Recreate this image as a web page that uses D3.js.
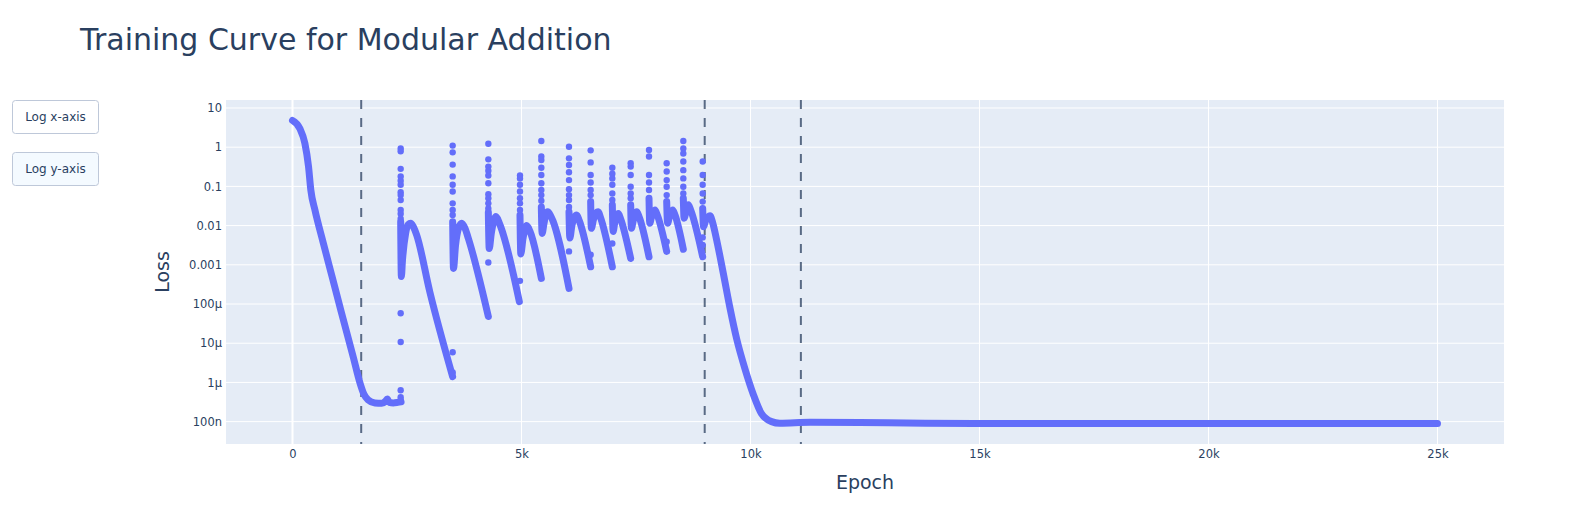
<!DOCTYPE html>
<html>
<head>
	<title>Training Curve for Modular Addition</title>
	<script src="https://d3js.org/d3.v7.min.js" charset="utf-8"></script>
	<style>
		body { margin: 0; background: #fff; }
		text { font-family: "DejaVu Sans", Verdana, sans-serif; fill: #2a3f5f; }
	</style>
</head>
<body>
	<svg width="1584" height="525"></svg>
	<script>
		// main loss trace, null = break between the spike cycles
		const lossEpoch = [
			0, 160, 270, 350, 400, 490, 670, 860, 1060, 1330, 1470, 1560, 1650, 1800, 1950, 2030, 2070, 2110, 2200, 2300, 2370, null,
			2362, 2377, 2400, 2470, 2530, 2580, 2640, 2710, 3000, 3497, null,
			3497, 3515, 3560, 3630, 3694, 3767, 3840, 4276, null,
			4276, 4295, 4340, 4400, 4443, 4516, 4953, null,
			4967, 4985, 5030, 5080, 5113, 5186, 5433, null,
			5433, 5450, 5490, 5530, 5572, 5645, 6037, null,
			6037, 6055, 6100, 6150, 6205, 6263, 6510, null,
			6510, 6525, 6570, 6620, 6677, 6728, 6983, null,
			6983, 7000, 7040, 7080, 7114, 7165, 7384, null,
			7384, 7400, 7440, 7480, 7515, 7566, 7784, null,
			7784, 7800, 7840, 7880, 7915, 7965, 8170, null,
			8170, 8190, 8230, 8270, 8301, 8352, 8533, null,
			8533, 8550, 8590, 8620, 8643, 8694, 8956, null,
			8956, 8975, 9020, 9070, 9116, 9180, 9261, 9407, 9552, 9700, 9880, 10060, 10240, 10460, 10640, 11300, 13000, 15000, 20000, 25000
		];
		const lossValue = [
			4.8, 3.0, 1.26, 0.32, 0.081, 0.025, 0.0037, 5.2e-4, 6.6e-5, 4.3e-6, 1.0e-6, 5.0e-7, 3.6e-7, 3.0e-7, 2.95e-7, 3.3e-7, 3.8e-7, 3.1e-7, 3.0e-7, 3.1e-7, 3.2e-7, null,
			0.0126, 5.0e-4, 1.26e-3, 6.3e-3, 0.0107, 0.0115, 0.0093, 0.0058, 2.0e-4, 1.4e-6, null,
			0.0126, 8.1e-4, 0.0032, 0.0089, 0.0115, 0.0085, 0.0047, 4.8e-5, null,
			0.022, 0.0026, 0.0063, 0.014, 0.017, 0.0115, 1.15e-4, null,
			0.0186, 0.0019, 0.0045, 0.0083, 0.010, 0.0071, 4.5e-4, null,
			0.030, 0.0063, 0.0112, 0.019, 0.0224, 0.017, 2.5e-4, null,
			0.0224, 0.0048, 0.010, 0.0158, 0.0186, 0.0132, 8.9e-4, null,
			0.041, 0.0085, 0.014, 0.020, 0.0224, 0.0158, 8.9e-4, null,
			0.034, 0.0071, 0.0126, 0.0178, 0.0204, 0.0148, 0.00145, null,
			0.034, 0.0085, 0.0135, 0.019, 0.0224, 0.017, 0.0016, null,
			0.050, 0.0115, 0.017, 0.022, 0.025, 0.0186, 0.0022, null,
			0.041, 0.0115, 0.017, 0.022, 0.025, 0.0186, 0.0025, null,
			0.050, 0.0155, 0.022, 0.029, 0.034, 0.025, 0.0016, null,
			0.0275, 0.0093, 0.0135, 0.0165, 0.0178, 0.0112, 0.0043, 6.0e-4, 7.9e-5, 1.26e-5, 2.2e-6, 5.0e-7, 1.6e-7, 1.0e-7, 9.1e-8, 9.6e-8, 9.3e-8, 8.9e-8, 8.9e-8, 8.9e-8
		];

		// loose points at each loss spike
		const spikeEpochs = [2362, 3497, 4276, 4967, 5433, 6037, 6510, 6983, 7384, 7784, 8170, 8533, 8956];
		const spikeLosses = [
			[0.93, 0.79, 0.28, 0.18, 0.14, 0.11, 0.071, 0.06, 0.045, 0.025, 0.02, 0.015, 5.8e-5, 1.07e-5, 6.3e-7, 4.2e-7, 3.5e-7],
			[1.1, 0.74, 0.36, 0.18, 0.11, 0.074, 0.037, 0.025, 0.0186, 5.9e-6, 1.8e-6],
			[1.23, 0.49, 0.32, 0.25, 0.19, 0.12, 0.063, 0.05, 0.037, 0.0275, 0.00115],
			[0.19, 0.16, 0.11, 0.074, 0.05, 0.037, 0.025, 3.9e-4],
			[1.44, 0.58, 0.47, 0.30, 0.195, 0.12, 0.081, 0.06, 0.043],
			[1.03, 0.52, 0.35, 0.23, 0.145, 0.085, 0.06, 0.045, 0.03, 0.0022],
			[0.83, 0.41, 0.195, 0.126, 0.081, 0.06, 0.0018],
			[0.30, 0.21, 0.16, 0.11, 0.066, 0.045, 0.0035],
			[0.39, 0.32, 0.195, 0.098, 0.066, 0.05],
			[0.85, 0.58, 0.195, 0.126, 0.081],
			[0.39, 0.24, 0.145, 0.098, 0.06, 0.0039],
			[1.44, 0.93, 0.69, 0.43, 0.26, 0.16, 0.098, 0.066],
			[0.43, 0.195, 0.11, 0.066, 0.041, 0.005, 0.0032]
		];

		const phaseLines = [1500, 9000, 11100];

		const xTicks = [0, 5000, 10000, 15000, 20000, 25000];
		const xTickLabels = ['0', '5k', '10k', '15k', '20k', '25k'];
		const yTicks = [1e-7, 1e-6, 1e-5, 1e-4, 1e-3, 0.01, 0.1, 1, 10];
		const yTickLabels = ['100n', '1µ', '10µ', '100µ', '0.001', '0.01', '0.1', '1', '10'];

		const buttonLabels = ['Log x-axis', 'Log y-axis'];

		const margin = {top: 100, right: 80, bottom: 81, left: 226};
		const width = 1584 - margin.left - margin.right;
		const height = 525 - margin.top - margin.bottom;
		const color = '#636efa';

		var svg = d3.select('svg');

		svg.append('text')
			.attr('x', 80)
			.attr('y', 50)
			.style('font-size', '30px')
			.text('Training Curve for Modular Addition');

		// update-menu style buttons
		const btn = svg.selectAll('g.btn')
			.data(buttonLabels)
			.enter()
			.append('g')
			.attr('transform', (d, i) => `translate(12.5, ${100.5 + i * 52})`);
		btn.append('rect')
			.attr('width', 86)
			.attr('height', 33)
			.attr('rx', 3)
			.style('fill', (d, i) => i == 1 ? '#f4faff' : '#ffffff')
			.style('stroke', '#bec8d9')
			.style('stroke-width', 1);
		btn.append('text')
			.attr('x', 43)
			.attr('y', 16.5)
			.attr('dy', '0.35em')
			.attr('text-anchor', 'middle')
			.style('font-size', '12px')
			.text(d => d);

		const chart = svg.append('g')
			.attr('transform', `translate(${margin.left}, ${margin.top})`);

		const xScale = d3.scaleLinear()
			.domain([-1452, 26452])
			.range([0, width]);

		const yScale = d3.scaleLog()
			.domain([Math.pow(10, -7.571), Math.pow(10, 1.204)])
			.range([height, 0]);

		chart.append('rect')
			.attr('width', width)
			.attr('height', height)
			.style('fill', '#e5ecf6');

		// grid
		chart.append('g')
			.selectAll('line')
			.data(xTicks)
			.enter()
			.append('line')
			.attr('x1', d => xScale(d))
			.attr('x2', d => xScale(d))
			.attr('y1', 0)
			.attr('y2', height)
			.style('stroke', '#ffffff')
			.style('stroke-width', d => d == 0 ? 2 : 1);

		chart.append('g')
			.selectAll('line')
			.data(yTicks)
			.enter()
			.append('line')
			.attr('x1', 0)
			.attr('x2', width)
			.attr('y1', d => yScale(d))
			.attr('y2', d => yScale(d))
			.style('stroke', '#ffffff')
			.style('stroke-width', 1);

		// axes
		const xAxis = chart.append('g')
			.attr('transform', `translate(0, ${height})`)
			.call(d3.axisBottom(xScale).tickValues(xTicks).tickFormat((d, i) => xTickLabels[i]).tickSize(0).tickPadding(6));
		const yAxis = chart.append('g')
			.call(d3.axisLeft(yScale).tickValues(yTicks).tickFormat((d, i) => yTickLabels[i]).tickSize(0).tickPadding(4));
		[xAxis, yAxis].forEach(a => {
			a.select('.domain').remove();
			a.selectAll('text')
				.style('font-family', '"DejaVu Sans", Verdana, sans-serif')
				.style('font-size', '11.5px')
				.style('fill', '#2a3f5f');
		});

		// dashed phase boundaries
		chart.selectAll('line.phase')
			.data(phaseLines)
			.enter()
			.append('line')
			.attr('class', 'phase')
			.attr('x1', d => xScale(d))
			.attr('x2', d => xScale(d))
			.attr('y1', 0)
			.attr('y2', height)
			.style('stroke', '#2a3f5f')
			.style('stroke-opacity', 0.75)
			.style('stroke-width', 2)
			.style('stroke-dasharray', '9,9');

		const plot = chart.append('g');

		const points = lossEpoch.map((e, i) => [e, lossValue[i]]);
		const line = d3.line()
			.defined(d => d[0] != null && d[1] != null)
			.x(d => xScale(d[0]))
			.y(d => yScale(d[1]))
			.curve(d3.curveMonotoneX);

		plot.append('path')
			.datum(points)
			.attr('d', line)
			.style('fill', 'none')
			.style('stroke', color)
			.style('stroke-width', 7)
			.style('stroke-linecap', 'round')
			.style('stroke-linejoin', 'round');

		const dots = [];
		spikeEpochs.forEach((e, i) => spikeLosses[i].forEach(v => dots.push([e, v])));

		plot.selectAll('circle')
			.data(dots)
			.enter()
			.append('circle')
			.attr('cx', d => xScale(d[0]))
			.attr('cy', d => yScale(d[1]))
			.attr('r', 3.2)
			.style('fill', color);

		svg.append('text')
			.attr('x', margin.left + width / 2)
			.attr('y', 489)
			.attr('text-anchor', 'middle')
			.style('font-size', '19px')
			.text('Epoch');

		svg.append('text')
			.attr('transform', `translate(169, ${margin.top + height / 2}) rotate(-90)`)
			.attr('text-anchor', 'middle')
			.style('font-size', '19px')
			.text('Loss');
	</script>
</body>
</html>
